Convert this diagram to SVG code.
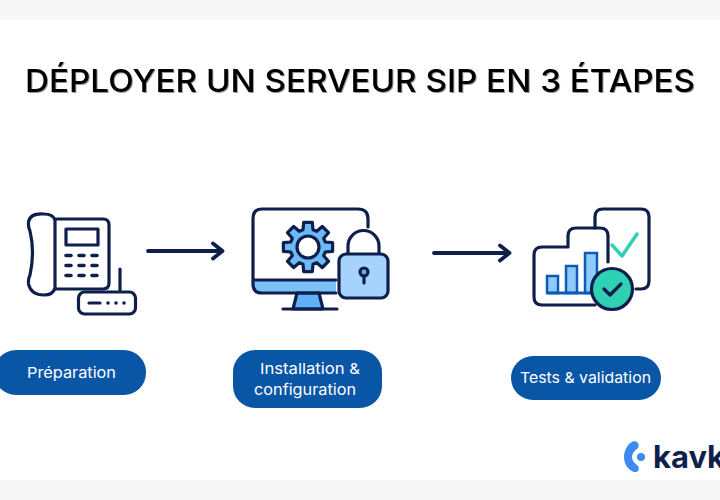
<svg xmlns="http://www.w3.org/2000/svg" width="720" height="500" viewBox="0 0 720 500">
<defs>
<style>
.l{fill:none;stroke:#0f1f4b;stroke-width:3.2;stroke-linecap:round;stroke-linejoin:round}
.f{stroke:#0f1f4b;stroke-width:3.2;stroke-linecap:round;stroke-linejoin:round}
.a{fill:none;stroke:#0f1f4b;stroke-width:3.8;stroke-linecap:round;stroke-linejoin:round}
.pill{fill:#0a56a6}
.t{font-family:"Inter","Liberation Sans",sans-serif;font-size:15px;font-weight:400;fill:#fff}
</style>
<filter id="sh" x="-5%" y="-20%" width="110%" height="150%"><feDropShadow dx="1" dy="1" stdDeviation="0.6" flood-color="#000" flood-opacity="0.4"/></filter>
</defs>
<rect width="720" height="500" fill="#fff"/>
<rect width="720" height="20" fill="#f7f7f7"/>
<rect y="480" width="720" height="20" fill="#f7f7f7"/>
<g id="title"><text x="25" y="92" font-family="Inter,'Liberation Sans',sans-serif" font-size="31.5" font-weight="500" fill="#000" textLength="670" lengthAdjust="spacingAndGlyphs" filter="url(#sh)">DÉPLOYER UN SERVEUR SIP EN 3 ÉTAPES</text></g>
<g id="connectors">
<path class="a" d="M148 251H222M213 243.500L222.500 251L213 258.500"/>
<path class="a" d="M434 253H509M500 245.500L509.500 253L500 260.500"/>
</g>
<g id="phone">
<path class="l" d="M55 219H103Q109 219 109 225V283Q109 289 103 289H55"/>
<path class="l" d="M55 220Q53 214 44 214Q30 213 28.500 222Q28 227 30 231Q35 252 30 275Q28 279 28.500 284Q31 295 44 295Q53 295 55 288Z"/>
<rect class="l" x="66" y="229" width="32" height="16"/>
<path d="M66 255.500H71M79 255.500H84M92 255.500H97M66 265.500H71M79 265.500H84M92 265.500H97M66 275.500H71M79 275.500H84M92 275.500H97" class="l" style="stroke-width:3.6"/>
<path class="l" d="M120 269V292"/>
<rect x="78.500" y="292" width="57" height="22" rx="6" fill="#fff" class="f"/>
<path class="l" d="M89 303H100"/>
<circle cx="108" cy="303" r="1.800" fill="#0f1f4b"/><circle cx="116" cy="303" r="1.800" fill="#0f1f4b"/><circle cx="124" cy="303" r="1.800" fill="#0f1f4b"/>
</g>
<g id="install">
<path d="M253 280H336V293H262Q253 293 253 284Z" fill="#7cc0f8"/>
<path d="M297 293H319L323 309H293Z" fill="#5fb0f5" class="f"/>
<path class="l" d="M368 227V219Q368 209 358 209H262Q253 209 253 219V284Q253 293 262 293H336M253 280H336M283 309H337"/>
<polygon transform="translate(308,247)" fill="#6db8f7" class="f" points="-5,-17.300 -4.300,-24.600 4.300,-24.600 5,-17.300 8.700,-15.700 14.300,-20.500 20.500,-14.300 15.700,-8.700 17.300,-5 24.600,-4.300 24.600,4.300 17.300,5 15.700,8.700 20.500,14.300 14.300,20.500 8.700,15.700 5,17.300 4.300,24.600 -4.300,24.600 -5,17.300 -8.700,15.700 -14.300,20.500 -20.500,14.300 -15.700,8.700 -17.300,5 -24.600,4.300 -24.600,-4.300 -17.300,-5 -15.700,-8.700 -20.500,-14.300 -14.300,-20.500 -8.700,-15.700"/>
<circle cx="308" cy="247" r="11" fill="#fff" class="f"/>
<path class="l" d="M348 254V246A15.500 15.500 0 0 1 379 246V254"/>
<rect x="339" y="254" width="49" height="44" rx="7" fill="#a5d3fb" class="f"/>
<circle cx="364" cy="272" r="4" fill="#5fb0f5" class="f"/>
<path class="l" d="M364 276V283"/>
</g>
<g id="tests">
<path class="l" d="M595 228V217Q595 209 603 209H641Q649 209 649 217V281Q649 289 641 289H636"/>
<path d="M612 245L622 256L637 234" fill="none" stroke="#2fd0b4" stroke-width="3.500" stroke-linecap="round" stroke-linejoin="round"/>
<path class="l" d="M608 262V236Q608 228 600 228H576Q568 228 568 236V247H542Q534 247 534 255V297Q534 305 542 305H595"/>
<path d="M547 276H558V293H547ZM566 266H577V293H566ZM585 253H597V293H585Z" fill="#8fcbfa" stroke="#0c5cb5" stroke-width="2.500"/>
<path d="M547 293H597" stroke="#0c5cb5" stroke-width="3"/>
<circle cx="612" cy="289" r="20.500" fill="#2fd0b4" stroke="#0f1f4b" stroke-width="3.200"/>
<path d="M604 289L610 295L621 284" fill="none" stroke="#0f1f4b" stroke-width="3.200" stroke-linecap="round" stroke-linejoin="round"/>
</g>
<g id="step1"><rect class="pill" x="-6" y="350" width="152" height="45" rx="22"/><text class="t" x="27" y="378" textLength="89" lengthAdjust="spacingAndGlyphs">Préparation</text></g>
<g id="step2"><rect class="pill" x="233" y="350" width="149" height="58" rx="22"/><text class="t" x="260" y="374" textLength="100" lengthAdjust="spacingAndGlyphs">Installation &amp;</text><text class="t" x="254" y="395" textLength="102" lengthAdjust="spacingAndGlyphs">configuration</text></g>
<g id="step3"><rect class="pill" x="511" y="356" width="150" height="44" rx="22"/><text class="t" x="520" y="383" textLength="131" lengthAdjust="spacingAndGlyphs">Tests &amp; validation</text></g>
<g id="logo">
<path d="M634 441C638 441 640 445 638 448C634 451 632 454 632 457C632 460 634 463 638 466C640 469 638 473 634 472C628 470 624 464 624 457C624 450 628 443 634 441Z" fill="#3d8bf2"/>
<circle cx="641" cy="457" r="4" fill="#3d8bf2"/>
<text x="653" y="468" font-family="Inter,'Liberation Sans',sans-serif" font-size="31" font-weight="700" fill="#0f1f4b">kavk</text>
</g>
</svg>
